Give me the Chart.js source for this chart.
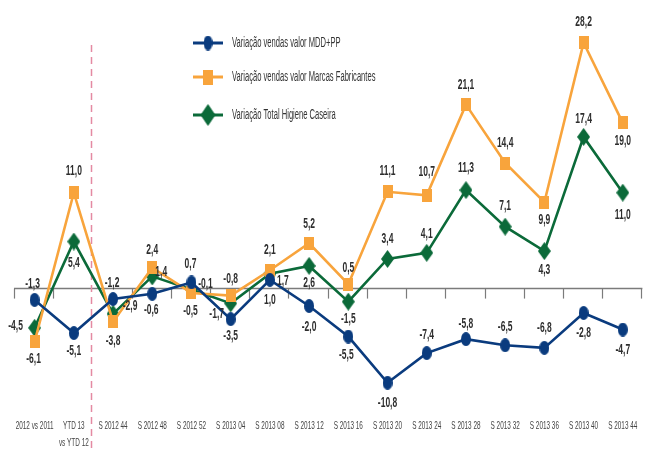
<!DOCTYPE html>
<html><head><meta charset="utf-8">
<script src="https://cdn.jsdelivr.net/npm/chart.js@4"></script>
<style>html,body{margin:0;padding:0;background:#fff}canvas{display:block}</style>
</head><body>
<canvas id="c" width="652" height="450"></canvas>
<script>
// ---- data ----
const categories = ["2012 vs 2011", ["YTD 13", "vs YTD 12"], "S 2012 44", "S 2012 48", "S 2012 52", "S 2013 04", "S 2013 08", "S 2013 12", "S 2013 16", "S 2013 20", "S 2013 24", "S 2013 28", "S 2013 32", "S 2013 36", "S 2013 40", "S 2013 44"];
const seriesNames = ["Variação vendas valor MDD+PP", "Variação vendas valor Marcas Fabricantes", "Variação Total Higiene Caseira"];
const mddValues = [-1.3, -5.1, -1.2, -0.6, 0.7, -3.5, 1.0, -2.0, -5.5, -10.8, -7.4, -5.8, -6.5, -6.8, -2.8, -4.7];
const marcasValues = [-6.1, 11.0, -3.8, 2.4, -0.5, -0.8, 2.1, 5.2, 0.5, 11.1, 10.7, 21.1, 14.4, 9.9, 28.2, 19.0];
const totalValues = [-4.5, 5.4, -2.9, 1.4, -0.1, -1.7, 1.7, 2.6, -1.5, 3.4, 4.1, 11.3, 7.1, 4.3, 17.4, 11.0];

// ---- style ----
const BLUE = '#0a3b7e', ORANGE = '#f8a43c', GREEN = '#0b6a39';
const FONT = "'Liberation Sans', Arial, sans-serif";
const labelOffsets = [
  [[-2,-16],[0,18],[-1,-16],[-1,16],[-1,-19],[0,17],[0,20],[0,21],[-2,18],[0,20],[0,-18],[0,-15],[0,-18],[0,-20],[0,20],[0,20]],
  [[-1,17],[0,-22],[0,19],[0,-18],[-1,18],[0,-17],[0,-20],[0,-19],[0,-16],[0,-21],[0,-23],[0,-20],[0,-20],[0,18],[0,-21],[0,18]],
  [[-19,-2],[0,21],[17,-8],[9,-5],[14,-6],[-14,10],[13,7],[0,17],[0,17],[0,-20],[0,-19],[0,-22],[0,-21],[0,19],[0,-18],[0,22]]
];

function makeMarker(kind, w, h, color) {
  const c = document.createElement('canvas');
  c.width = w; c.height = h;
  const x = c.getContext('2d');
  x.fillStyle = color;
  x.beginPath();
  if (kind === 'ellipse') x.ellipse(w/2, h/2, w/2, h/2, 0, 0, Math.PI*2);
  else if (kind === 'rect') x.rect(0, 0, w, h);
  else { x.moveTo(w/2, 0); x.lineTo(w, h/2); x.lineTo(w/2, h); x.lineTo(0, h/2); x.closePath(); }
  x.fill();
  return c;
}
const markers = [makeMarker('ellipse', 10, 14, BLUE), makeMarker('rect', 10, 13, ORANGE), makeMarker('diamond', 13, 18, GREEN)];
const legendMarkers = [makeMarker('ellipse', 9, 15, BLUE), makeMarker('rect', 10, 15, ORANGE), makeMarker('diamond', 15, 22, GREEN)];
const colors = [BLUE, ORANGE, GREEN];

function fmt(v) { return v.toFixed(1).replace('.', ','); }
function stretchText(ctx, text, x, y, sx, sy) {
  ctx.save();
  ctx.translate(x, y);
  ctx.scale(sx, sy);
  ctx.fillText(text, 0, 0);
  ctx.restore();
}

const decor = {
  id: 'decor',
  beforeDatasetsDraw(chart) {
    const ctx = chart.ctx, xs = chart.scales.x, ys = chart.scales.y;
    const y0 = ys.getPixelForValue(0);
    const half = (xs.getPixelForValue(1) - xs.getPixelForValue(0)) / 2;
    ctx.save();
    ctx.strokeStyle = '#7b7b7b';
    ctx.lineWidth = 1.5;
    ctx.beginPath();
    ctx.moveTo(chart.chartArea.left - 1, y0);
    ctx.lineTo(chart.chartArea.right, y0);
    ctx.stroke();
    ctx.lineWidth = 1.2;
    for (let i = 0; i <= categories.length; i++) {
      const x = Math.round(xs.getPixelForValue(0) - half + i * 2 * half) - 0.5;
      if (i === 2) continue;
      ctx.beginPath();
      ctx.moveTo(x, y0);
      ctx.lineTo(x, y0 + 10);
      ctx.stroke();
    }
    // dashed separator
    const xd = Math.round((xs.getPixelForValue(1) + xs.getPixelForValue(2)) / 2) - 1.5;
    ctx.strokeStyle = '#e48aa2';
    ctx.lineWidth = 1.5;
    ctx.setLineDash([7, 5]);
    ctx.beginPath();
    ctx.moveTo(xd, 45);
    ctx.lineTo(xd, chart.height);
    ctx.stroke();
    ctx.setLineDash([]);
    // category labels
    ctx.font = "8px " + FONT;
    ctx.fillStyle = '#444';
    ctx.textAlign = 'center';
    ctx.textBaseline = 'middle';
    categories.forEach((lab, i) => {
      const lines = Array.isArray(lab) ? lab : [lab];
      const x = xs.getPixelForValue(i);
      lines.forEach((t, k) => stretchText(ctx, t, x, 426 + k * 17, 0.8, 1.45));
    });
    ctx.restore();
  },
  afterDatasetsDraw(chart) {
    const ctx = chart.ctx;
    ctx.save();
    ctx.font = "bold 10px " + FONT;
    ctx.fillStyle = '#2e2e2e';
    ctx.textAlign = 'center';
    ctx.textBaseline = 'middle';
    chart.data.datasets.forEach((ds, di) => {
      const meta = chart.getDatasetMeta(di);
      meta.data.forEach((pt, i) => {
        const o = labelOffsets[di][i];
        stretchText(ctx, fmt(ds.data[i]), pt.x + o[0], pt.y + o[1], 0.85, 1.5);
      });
    });
    // legend
    const rows = [43, 77, 115];
    ctx.font = "10px " + FONT;
    ctx.textAlign = 'left';
    ctx.fillStyle = '#333';
    chart.data.datasets.forEach((ds, di) => {
      const y = rows[di];
      ctx.strokeStyle = colors[di];
      ctx.lineWidth = 3;
      ctx.beginPath();
      ctx.moveTo(193, y); ctx.lineTo(223, y);
      ctx.stroke();
      const m = legendMarkers[di];
      ctx.drawImage(m, 208 - m.width/2, y - m.height/2);
      stretchText(ctx, ds.label, 232, y, 0.76, 1.4);
    });
    ctx.restore();
  }
};

const seriesValues = [mddValues, marcasValues, totalValues];
new Chart(document.getElementById('c'), {
  type: 'line',
  data: {
    labels: categories,
    datasets: seriesNames.map((name, i) => ({
      label: name,
      data: seriesValues[i],
      borderColor: colors[i],
      backgroundColor: colors[i],
      borderWidth: 2.6,
      pointStyle: markers[i],
      pointRadius: 7,
      tension: 0,
      clip: false
    }))
  },
  options: {
    responsive: false,
    animation: false,
    devicePixelRatio: 1,
    layout: { padding: { top: 4, left: 15, right: 0, bottom: 35 } },
    plugins: { legend: { display: false }, tooltip: { enabled: false } },
    scales: {
      x: { display: false, offset: true },
      y: { display: false, min: -14.5, max: 32 }
    }
  },
  plugins: [decor]
});
</script>
</body></html>
